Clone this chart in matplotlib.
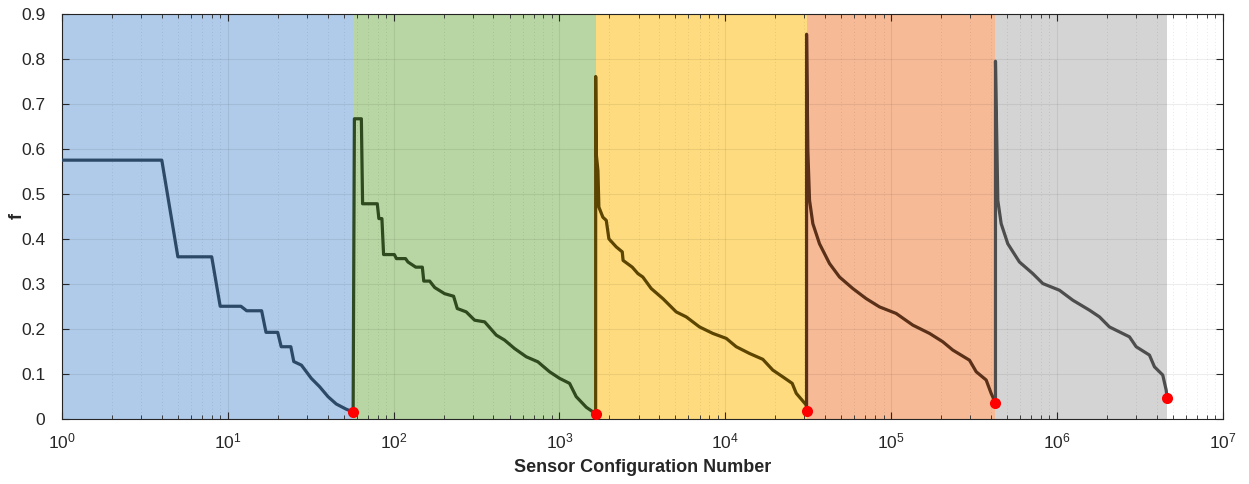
import numpy as np
import matplotlib
matplotlib.use("Agg")
from matplotlib import pyplot as plt
from matplotlib.ticker import FixedLocator, NullLocator

plt.rcParams['font.family'] = ['Liberation Sans', 'DejaVu Sans']
plt.rcParams['mathtext.default'] = 'regular'

# boundaries of the five groups (last configuration number of each group)
bounds = [1, 57, 1653, 30913, 425923, 4613029]

# group 1
x1 = [1, 4, 5, 8, 9, 12, 13, 16, 17, 20, 21, 24, 25, 27.8, 31.9, 35.8, 40.2, 45.1, 51.8, 57]
f1 = [0.575, 0.575, 0.36, 0.36, 0.25, 0.25, 0.24, 0.24, 0.192, 0.192, 0.16, 0.16, 0.127,
      0.119, 0.0896, 0.071, 0.049, 0.0326, 0.021, 0.015]
# group 2
x2 = [58, 63.9, 65, 79.7, 81.5, 85, 87, 101, 104, 118, 122, 136, 149, 152, 165, 177, 203, 230,
      242, 274, 308, 354, 416, 467, 536, 631, 741, 872, 1002, 1151, 1262, 1452, 1653]
f2 = [0.667, 0.667, 0.478, 0.478, 0.445, 0.445, 0.365, 0.365, 0.356, 0.356, 0.3485, 0.337,
      0.337, 0.306, 0.306, 0.2916, 0.278, 0.2723, 0.245, 0.2375, 0.219, 0.2153, 0.1858,
      0.1747, 0.156, 0.1376, 0.1265, 0.1043, 0.0896, 0.0785, 0.049, 0.0253, 0.011]
# group 3
x3 = [1654, 1667, 1706, 1729, 1828, 1916, 1987, 2201, 2392, 2420, 2748, 2971, 3183, 3577, 4204,
      5058, 5815, 6995, 8411, 10140, 11640, 14000, 16840, 19350, 22230, 25330, 26790, 30770, 30913]
f3 = [0.761, 0.589, 0.552, 0.4706, 0.448, 0.441, 0.40, 0.382, 0.371, 0.352, 0.337, 0.3227,
      0.315, 0.2894, 0.267, 0.2375, 0.2264, 0.204, 0.1896, 0.1785, 0.16, 0.145, 0.132, 0.108,
      0.093, 0.0785, 0.0564, 0.0304, 0.016]
# group 4
x4 = [30914, 31470, 32220, 33740, 37000, 42530, 48860, 58780, 70740, 85100, 107300, 135200,
      170500, 205000, 235600, 297000, 326000, 374300, 401000, 425923]
f4 = [0.855, 0.5965, 0.4855, 0.4337, 0.389, 0.345, 0.315, 0.2894, 0.267, 0.2486, 0.234, 0.208,
      0.1896, 0.171, 0.1525, 0.13, 0.1043, 0.086, 0.0564, 0.035]
# group 5
x5 = [425924, 440000, 461000, 505500, 594000, 715000, 822000, 1035000, 1246000, 1571000,
      1805000, 2073000, 2737000, 3004000, 3613000, 3872000, 4346000, 4556000, 4613029]
f5 = [0.795, 0.4855, 0.4337, 0.389, 0.3485, 0.3227, 0.3005, 0.2857, 0.2635, 0.2413, 0.2264,
      0.204, 0.182, 0.16, 0.1414, 0.1154, 0.097, 0.0637, 0.047]

xticks = [1e0, 1e1, 1e2, 1e3, 1e4, 1e5, 1e6, 1e7]
xticklabels = ['$10^{0}$', '$10^{1}$', '$10^{2}$', '$10^{3}$', '$10^{4}$', '$10^{5}$',
               '$10^{6}$', '$10^{7}$']
yticks = [0, 0.1, 0.2, 0.3, 0.4, 0.5, 0.6, 0.7, 0.8, 0.9]
yticklabels = ['0', '0.1', '0.2', '0.3', '0.4', '0.5', '0.6', '0.7', '0.8', '0.9']

groups = [(x1, f1), (x2, f2), (x3, f3), (x4, f4), (x5, f5)]
fill_colors = ['#afcbe9', '#b7d6a3', '#fedb7e', '#f6ba96', '#d4d4d4']
line_colors = ['#2c4a68', '#2e4a1e', '#5c4500', '#5a3018', '#4d4d4d']

fig = plt.figure(figsize=(12.49, 4.84), dpi=100)
ax = fig.add_axes([0.0496, 0.135, 0.9294, 0.836])

for i in range(5):
    ax.axvspan(bounds[i], bounds[i + 1], color=fill_colors[i], lw=0, zorder=0)

prev = None
for i, (xs, fs) in enumerate(groups):
    xx = list(xs)
    ff = list(fs)
    if prev is not None:
        xx = [prev[0]] + xx
        ff = [prev[1]] + ff
    ax.plot(xx, ff, color=line_colors[i], lw=2.3, zorder=3, solid_joinstyle='round')
    prev = (xs[-1], fs[-1])

# minimum of each group
ax.plot([g[0][-1] for g in groups], [g[1][-1] for g in groups], 'o', color='#ff0000',
        ms=8, mec='none', zorder=4)

ax.set_xscale('log')
ax.set_xlim(1, 1e7)
ax.set_ylim(0, 0.9)
ax.yaxis.set_major_locator(FixedLocator(yticks))
ax.yaxis.set_minor_locator(NullLocator())
ax.set_yticklabels(yticklabels)
ax.xaxis.set_major_locator(FixedLocator(xticks))
ax.set_xticklabels(xticklabels)
minor = [m * 10 ** d for d in range(7) for m in range(2, 10)]
ax.xaxis.set_minor_locator(FixedLocator(minor))

ax.grid(True, which='major', color='#000000', alpha=0.07, lw=0.8)
ax.grid(True, which='minor', axis='x', color='#000000', alpha=0.12, lw=0.6, ls=(0, (1, 3)))
ax.set_axisbelow(False)

ax.tick_params(which='both', direction='in', top=True, right=True, colors='#262626',
               labelsize=12.5)
ax.tick_params(axis='x', which='major', length=5, pad=9)
ax.tick_params(axis='y', which='major', length=5, pad=12)
ax.tick_params(which='minor', length=3)
for s in ax.spines.values():
    s.set_color('#262626')
    s.set_linewidth(0.8)

ax.set_xlabel('Sensor Configuration Number', fontsize=13, fontweight='bold', color='#262626',
              labelpad=6)
ax.set_ylabel('f', fontsize=13, fontweight='bold', color='#262626')
ax.yaxis.set_label_coords(-0.031, 0.5)

fig.savefig('out.png', dpi=100)
